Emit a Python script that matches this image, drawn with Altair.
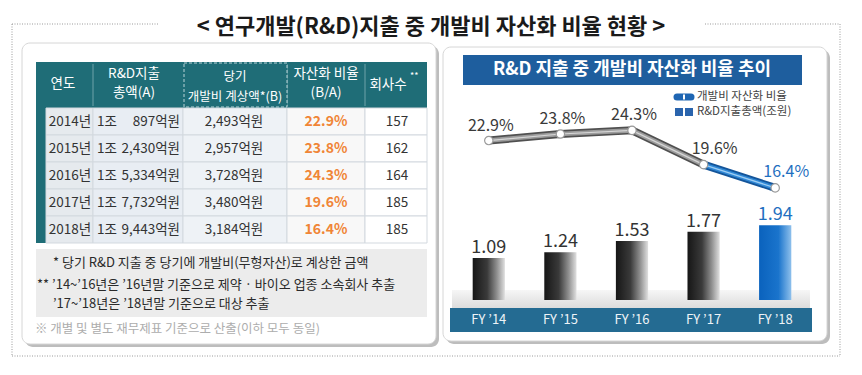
import altair as alt
import pandas as pd

# ---------------- data ----------------
years = ["2014년", "2015년", "2016년", "2017년", "2018년"]
fy_labels = ["FY ’14", "FY ’15", "FY ’16", "FY ’17", "FY ’18"]
rd_jo = ["1조", "1조", "1조", "1조", "1조"]
rd_eok = ["897억원", "2,430억원", "5,334억원", "7,732억원", "9,443억원"]
dev_cost = ["2,493억원", "2,957억원", "3,728억원", "3,480억원", "3,184억원"]
cap_ratio = [22.9, 23.8, 24.3, 19.6, 16.4]
companies = [157, 162, 164, 185, 185]
rd_trillion = [1.09, 1.24, 1.53, 1.77, 1.94]

df = pd.DataFrame({
    "year": years,
    "fy": fy_labels,
    "jo": rd_jo,
    "eok": rd_eok,
    "dev": dev_cost,
    "ratio": cap_ratio,
    "ratio_txt": [f"{v:.1f}%" for v in cap_ratio],
    "companies": companies,
    "rd": rd_trillion,
    "idx": list(range(len(years))),
})
one = pd.DataFrame({"k": [0]})

FONT = "Noto Sans CJK KR"
TEAL = "#1f6d77"
BLUE = "#1e5e9e"
ORANGE = "#f08536"

# ---------------- scales ----------------
X_FY = alt.X("fy:N", scale=alt.Scale(domain=fy_labels, range=[445, 803],
                                     paddingInner=0.55, paddingOuter=0.275), axis=None)
Y_ROW = alt.Y("year:N", scale=alt.Scale(domain=years, range=[100, 235],
                                        paddingInner=0, paddingOuter=0), axis=None)
Y_RD = alt.Y("rd:Q", scale=alt.Scale(domain=[0, 2], range=[292, 215]), axis=None)
Y_PCT = alt.Y("ratio:Q", scale=alt.Scale(domain=[10, 26], range=[226.5, 110]), axis=None)


# ---------------- helpers for decorations ----------------
def box(x, x2, y, y2, **mark):
    return alt.Chart(one).mark_rect(**mark).encode(
        x=alt.value(x), x2=alt.value(x2), y=alt.value(y), y2=alt.value(y2))


def label(text, x, y, **mark):
    mark.setdefault("font", FONT)
    return alt.Chart(one).mark_text(**mark).encode(
        x=alt.value(x), y=alt.value(y), text=alt.value(text))


def hrule(x, x2, y, **mark):
    return alt.Chart(one).mark_rule(**mark).encode(
        x=alt.value(x), x2=alt.value(x2), y=alt.value(y))


def vrule(x, y, y2, **mark):
    return alt.Chart(one).mark_rule(**mark).encode(
        x=alt.value(x), y=alt.value(y), y2=alt.value(y2))


layers = []

# ---------------- title & dotted frame ----------------
dot = dict(color="#9a9a9a", strokeDash=[1, 1.5], strokeWidth=1)
TY = 16
layers += [
    hrule(4, 150, TY, **dot), hrule(697, 832, TY, **dot),
    vrule(4, TY, 348, **dot), vrule(832, TY, 348, **dot),
    hrule(4, 832, 348, **dot),
    label("< 연구개발(R&D)지출 중 개발비 자산화 비율 현황 >", 423, 19,
          fontSize=22, fontWeight="bold", color="#1a1a1a", baseline="middle"),
]

# ---------------- left panel ----------------
layers += [
    box(17, 431, 38, 339, fill="#bdbdbd", cornerRadius=8),
    box(14, 428, 35, 336, fill="white", stroke="#d6d6d6", cornerRadius=8),
    # header + left strip
    box(28, 419, 54, 100, fill=TEAL),
    box(28, 38, 100, 235, fill=TEAL),
]
cells = [(38, 85, "#e6eaee"), (85, 175, "#e8edf3"), (175, 279, "#eef2f6"),
         (279, 357, "#f8f8f8"), (357, 419, "#ffffff")]
for x0, x1, c in cells:
    layers.append(alt.Chart(df).mark_rect(fill=c, stroke="#d3d9df", strokeWidth=1).encode(
        y=Y_ROW, x=alt.value(x0), x2=alt.value(x1)))
for xs in [85, 279, 357]:
    layers.append(vrule(xs, 56, 98, color="#6fa3aa", strokeWidth=1))
layers.append(box(176, 279, 55, 99, fill=TEAL, stroke="#b9d3d7", strokeDash=[3, 2], strokeWidth=1))

hdr = dict(color="white", fontSize=13.5, baseline="middle", lineHeight=19)
layers += [
    label("연도", 55, 76, **hdr),
    label(["R&D지출", "총액(A)"], 126, 66, **hdr),
    label(["당기", "개발비 계상액*(B)"], 227, 69, color="white", fontSize=12.5,
          baseline="middle", lineHeight=20),
    label(["자산화 비율", "(B/A)"], 318, 66, **hdr),
    label("회사수", 380, 77, **hdr),
    label("**", 402, 68, color="white", fontSize=9, baseline="middle", align="left"),
]

txt = dict(font=FONT, fontSize=13.5, baseline="middle", color="#333333")
layers += [
    alt.Chart(df).mark_text(**txt).encode(y=Y_ROW, x=alt.value(62), text="year:N"),
    alt.Chart(df).mark_text(align="left", **txt).encode(y=Y_ROW, x=alt.value(89), text="jo:N"),
    alt.Chart(df).mark_text(align="right", **txt).encode(y=Y_ROW, x=alt.value(172), text="eok:N"),
    alt.Chart(df).mark_text(**txt).encode(y=Y_ROW, x=alt.value(226), text="dev:N"),
    alt.Chart(df).mark_text(font=FONT, fontSize=14, baseline="middle", color=ORANGE,
                            fontWeight="bold").encode(y=Y_ROW, x=alt.value(318), text="ratio_txt:N"),
    alt.Chart(df).mark_text(**txt).encode(y=Y_ROW, x=alt.value(389), text="companies:Q"),
]

# notes
note = dict(fontSize=13, color="#2a2a2a", align="left", baseline="middle")
layers += [
    box(28, 419, 241, 309, fill="#ececec"),
    label("* 당기 R&D 지출 중 당기에 개발비(무형자산)로 계상한 금액", 45, 255, **note),
    label("** ’14~’16년은 ’16년말 기준으로 제약 · 바이오 업종 소속회사 추출", 29, 277, **note),
    label("’17~’18년은 ’18년말 기준으로 대상 추출", 45, 296, **note),
    label("※ 개별 및 별도 재무제표 기준으로 산출(이하 모두 동일)", 27, 321,
          fontSize=12.5, color="#adadad", align="left", baseline="middle"),
]

# ---------------- right panel ----------------
layers += [
    box(438, 822, 42, 336, fill="#bdbdbd", cornerRadius=8),
    box(435, 819, 39, 333, fill="white", stroke="#d6d6d6", cornerRadius=8),
    box(455, 794, 47, 77, fill=BLUE),
    label("R&D 지출 중 개발비 자산화 비율 추이", 624, 62, fontSize=18, fontWeight="bold",
          color="white", baseline="middle"),
    # legend
    hrule(669, 683, 89, color="#1f66b3", strokeWidth=7, strokeCap="round"),
    hrule(675, 677, 89, color="white", strokeWidth=5),
    label("개발비 자산화 비율", 689, 89, fontSize=11.5, color="#444444", align="left", baseline="middle"),
    box(667, 675, 100, 108, fill="#2a64ad"),
    box(677, 685, 100, 108, fill="#2a64ad"),
    label("R&D지출총액(조원)", 689, 104, fontSize=11.5, color="#444444", align="left", baseline="middle"),
    # shelf and axis band
    box(444, 802, 282, 300, fill={"gradient": "linear", "x1": 0, "x2": 0, "y1": 0, "y2": 1,
                                  "stops": [{"offset": 0, "color": "#f6f6f6"},
                                            {"offset": 1, "color": "#dcdcdc"}]}),
    box(442, 804, 300, 324, fill="#246b92"),
]

dark_grad = {"gradient": "linear", "x1": 0, "x2": 1, "y1": 0, "y2": 0,
             "stops": [{"offset": 0, "color": "#161616"}, {"offset": 0.45, "color": "#3a3a3a"},
                       {"offset": 0.75, "color": "#8f8f8f"}, {"offset": 1, "color": "#e0e0e0"}]}
blue_grad = {"gradient": "linear", "x1": 0, "x2": 1, "y1": 0, "y2": 0,
             "stops": [{"offset": 0, "color": "#0a62bd"}, {"offset": 0.6, "color": "#1a74cc"},
                       {"offset": 1, "color": "#8ec0ec"}]}

base = alt.Chart(df)
layers += [
    base.transform_filter(alt.datum.idx < 4).mark_bar(color=dark_grad).encode(x=X_FY, y=Y_RD),
    base.transform_filter(alt.datum.idx == 4).mark_bar(color=blue_grad).encode(x=X_FY, y=Y_RD),
    base.mark_text(font=FONT, fontSize=18, baseline="bottom", dy=-1).encode(
        x=X_FY, y=Y_RD, text=alt.Text("rd:Q", format=".2f"),
        color=alt.condition(alt.datum.idx == 4, alt.value("#1f6fc0"), alt.value("#333333"))),
    base.mark_text(font=FONT, fontSize=13, baseline="middle", color="#eef3f7").encode(
        x=X_FY, y=alt.value(312), text="fy:N"),
]

# line
g = base.transform_filter(alt.datum.idx <= 3)
b = base.transform_filter(alt.datum.idx >= 3)
layers += [
    g.mark_line(color="#505050", strokeWidth=8).encode(x=X_FY, y=Y_PCT),
    g.mark_line(color="#9c9c9c", strokeWidth=4.5).encode(x=X_FY, y=Y_PCT),
    g.mark_line(color="#d6d6d6", strokeWidth=1.2).encode(x=X_FY, y=Y_PCT),
    b.mark_line(color="#14559a", strokeWidth=8).encode(x=X_FY, y=Y_PCT),
    b.mark_line(color="#2f88d6", strokeWidth=4.5).encode(x=X_FY, y=Y_PCT),
    b.mark_line(color="#9fcdf2", strokeWidth=1.2).encode(x=X_FY, y=Y_PCT),
    base.mark_circle(color="white", stroke="#9a9a9a", strokeWidth=1.2, size=70, opacity=1).encode(
        x=X_FY, y=Y_PCT),
    base.transform_filter(alt.datum.idx <= 2).mark_text(
        font=FONT, fontSize=16, baseline="middle", dy=-15, dx=2, color="#3a3a3a").encode(
        x=X_FY, y=Y_PCT, text="ratio_txt:N"),
    base.transform_filter(alt.datum.idx >= 3).mark_text(
        font=FONT, fontSize=16, baseline="middle", dy=-16, dx=11).encode(
        x=X_FY, y=Y_PCT, text="ratio_txt:N",
        color=alt.condition(alt.datum.idx == 4, alt.value("#1f6fc0"), alt.value("#3a3a3a"))),
]

chart = alt.layer(*layers).resolve_scale(y="independent").properties(
    width=846, height=359, padding=0,
    autosize=alt.AutoSizeParams(type="none"),
    background="white",
).configure_view(stroke=None).configure_text(font=FONT)

chart.save("out.html", embed_options={"renderer": "svg", "actions": False})
